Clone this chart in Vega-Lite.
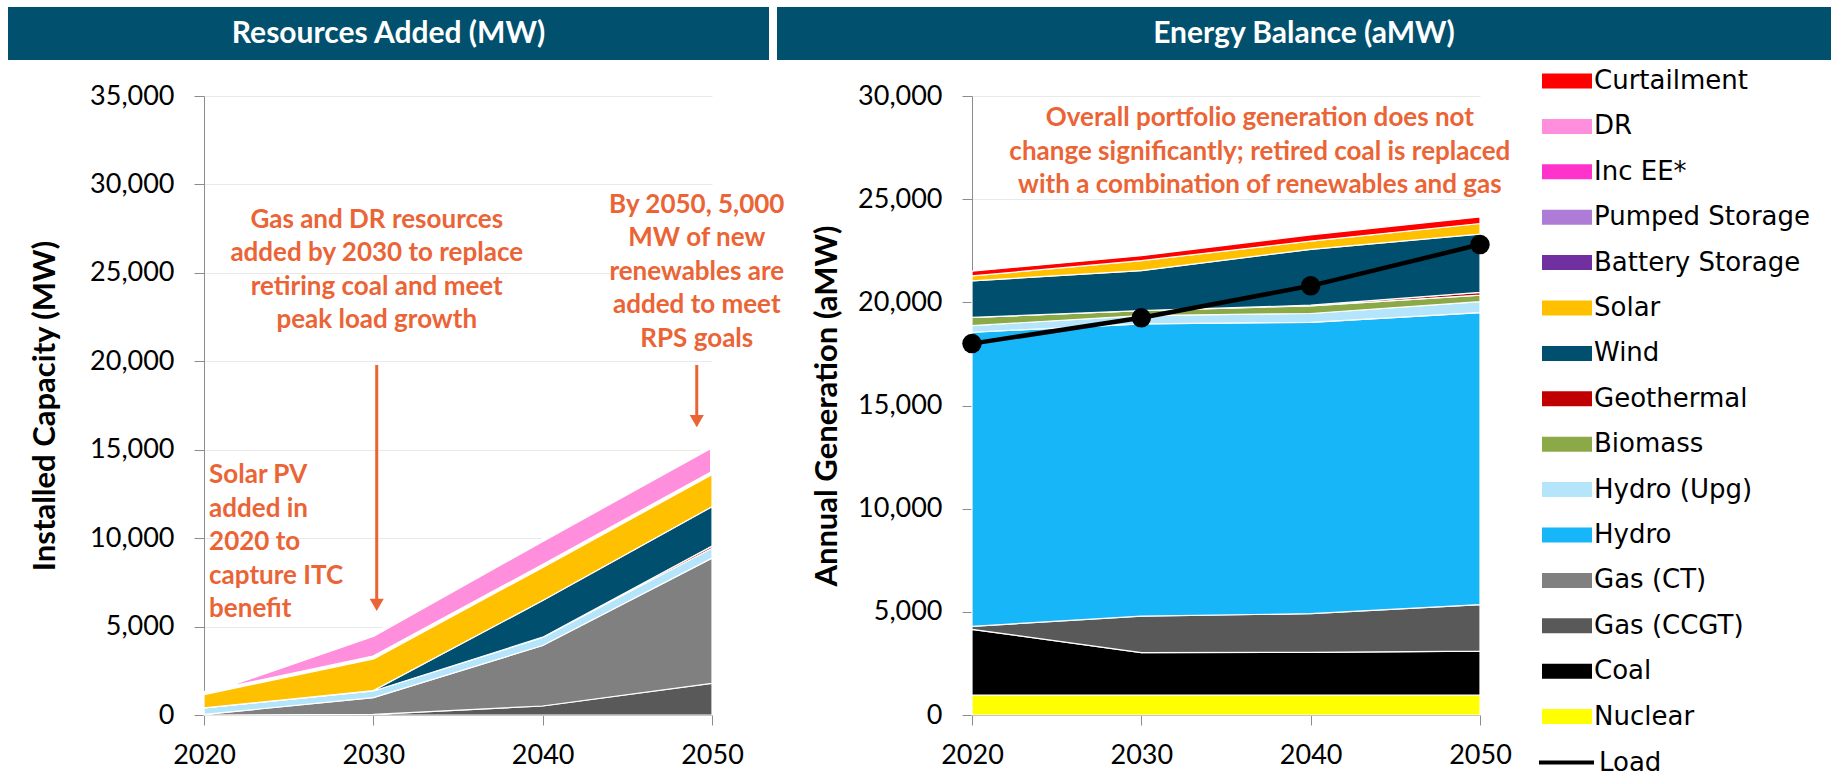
{
  "$schema": "https://vega.github.io/schema/vega-lite/v6.json",
  "background": "white",
  "padding": {"left": 8, "top": 7, "right": 0, "bottom": 0},
  "autosize": {"type": "pad"},
  "config": {
    "view": {"stroke": null},
    "font": "Lato",
    "axis": {
      "labelFont": "Lato", "titleFont": "Lato", "labelColor": "black", "titleColor": "black",
      "domainColor": "#8C8C8C", "tickColor": "#8C8C8C", "gridColor": "#E9E9E9",
      "tickSize": 10, "labelFontSize": 27, "titleFontSize": 31, "titleFontWeight": "bold",
      "labelOverlap": false
    }
  },
  "datasets": {
    "ranks": [
      {"series": "Nuclear", "rank": 1}, {"series": "Coal", "rank": 2}, {"series": "Gas (CCGT)", "rank": 3},
      {"series": "Gas (CT)", "rank": 4}, {"series": "Hydro", "rank": 5}, {"series": "Hydro (Upg)", "rank": 6},
      {"series": "Biomass", "rank": 7}, {"series": "Geothermal", "rank": 8}, {"series": "Wind", "rank": 9},
      {"series": "Solar", "rank": 10}, {"series": "Battery Storage", "rank": 11}, {"series": "Pumped Storage", "rank": 12},
      {"series": "Inc EE*", "rank": 13}, {"series": "DR", "rank": 14}, {"series": "Curtailment", "rank": 15}
    ],
    "cap": [
      {"series": "Gas (CCGT)", "year": 2020, "value": 0}, {"series": "Gas (CCGT)", "year": 2030, "value": 30},
      {"series": "Gas (CCGT)", "year": 2040, "value": 510}, {"series": "Gas (CCGT)", "year": 2050, "value": 1790},
      {"series": "Gas (CT)", "year": 2020, "value": 30}, {"series": "Gas (CT)", "year": 2030, "value": 950},
      {"series": "Gas (CT)", "year": 2040, "value": 3420}, {"series": "Gas (CT)", "year": 2050, "value": 7080},
      {"series": "Hydro (Upg)", "year": 2020, "value": 370}, {"series": "Hydro (Upg)", "year": 2030, "value": 380},
      {"series": "Hydro (Upg)", "year": 2040, "value": 450}, {"series": "Hydro (Upg)", "year": 2050, "value": 560},
      {"series": "Geothermal", "year": 2020, "value": 0}, {"series": "Geothermal", "year": 2030, "value": 0},
      {"series": "Geothermal", "year": 2040, "value": 20}, {"series": "Geothermal", "year": 2050, "value": 120},
      {"series": "Wind", "year": 2020, "value": 0}, {"series": "Wind", "year": 2030, "value": 20},
      {"series": "Wind", "year": 2040, "value": 2070}, {"series": "Wind", "year": 2050, "value": 2230},
      {"series": "Solar", "year": 2020, "value": 830}, {"series": "Solar", "year": 2030, "value": 1870},
      {"series": "Solar", "year": 2040, "value": 1960}, {"series": "Solar", "year": 2050, "value": 1900},
      {"series": "DR", "year": 2020, "value": 0}, {"series": "DR", "year": 2030, "value": 1280},
      {"series": "DR", "year": 2040, "value": 1470}, {"series": "DR", "year": 2050, "value": 1510}
    ],
    "gen": [
      {"series": "Nuclear", "year": 2020, "value": 970}, {"series": "Nuclear", "year": 2030, "value": 970},
      {"series": "Nuclear", "year": 2040, "value": 970}, {"series": "Nuclear", "year": 2050, "value": 970},
      {"series": "Coal", "year": 2020, "value": 3180}, {"series": "Coal", "year": 2030, "value": 2050},
      {"series": "Coal", "year": 2040, "value": 2070}, {"series": "Coal", "year": 2050, "value": 2130},
      {"series": "Gas (CCGT)", "year": 2020, "value": 150}, {"series": "Gas (CCGT)", "year": 2030, "value": 1770},
      {"series": "Gas (CCGT)", "year": 2040, "value": 1870}, {"series": "Gas (CCGT)", "year": 2050, "value": 2250},
      {"series": "Hydro", "year": 2020, "value": 14250}, {"series": "Hydro", "year": 2030, "value": 14170},
      {"series": "Hydro", "year": 2040, "value": 14120}, {"series": "Hydro", "year": 2050, "value": 14150},
      {"series": "Hydro (Upg)", "year": 2020, "value": 320}, {"series": "Hydro (Upg)", "year": 2030, "value": 400},
      {"series": "Hydro (Upg)", "year": 2040, "value": 430}, {"series": "Hydro (Upg)", "year": 2050, "value": 530},
      {"series": "Biomass", "year": 2020, "value": 400}, {"series": "Biomass", "year": 2030, "value": 240},
      {"series": "Biomass", "year": 2040, "value": 370}, {"series": "Biomass", "year": 2050, "value": 320},
      {"series": "Geothermal", "year": 2020, "value": 0}, {"series": "Geothermal", "year": 2030, "value": 0},
      {"series": "Geothermal", "year": 2040, "value": 30}, {"series": "Geothermal", "year": 2050, "value": 130},
      {"series": "Wind", "year": 2020, "value": 1770}, {"series": "Wind", "year": 2030, "value": 1940},
      {"series": "Wind", "year": 2040, "value": 2710}, {"series": "Wind", "year": 2050, "value": 2830},
      {"series": "Solar", "year": 2020, "value": 240}, {"series": "Solar", "year": 2030, "value": 480},
      {"series": "Solar", "year": 2040, "value": 400}, {"series": "Solar", "year": 2050, "value": 510},
      {"series": "Curtailment", "year": 2020, "value": 230}, {"series": "Curtailment", "year": 2030, "value": 240},
      {"series": "Curtailment", "year": 2040, "value": 300}, {"series": "Curtailment", "year": 2050, "value": 320}
    ],
    "load": [
      {"series": "Load", "year": 2020, "value": 18000}, {"series": "Load", "year": 2030, "value": 19250},
      {"series": "Load", "year": 2040, "value": 20800}, {"series": "Load", "year": 2050, "value": 22800}
    ],
    "notesL": [
      {"year": 2030.2, "value": 28724, "label": "Gas and DR resources\nadded by 2030 to replace\nretiring coal and meet\npeak load growth"},
      {"year": 2049.1, "value": 29572, "label": "By 2050, 5,000\nMW of new\nrenewables are\nadded to meet\nRPS goals"}
    ],
    "notesL2": [
      {"year": 2020.3, "value": 14305, "label": "Solar PV\nadded in\n2020 to\ncapture ITC\nbenefit"}
    ],
    "arrows": [
      {"year": 2030.2, "value": 19790, "value2": 6500},
      {"year": 2049.1, "value": 19790, "value2": 16900}
    ],
    "heads": [
      {"year": 2030.2, "value": 6220},
      {"year": 2049.1, "value": 16620}
    ],
    "notesR": [
      {"year": 2037.0, "value": 29560, "label": "Overall portfolio generation does not\nchange significantly; retired coal is replaced\nwith a combination of renewables and gas"}
    ]
  },
  "spacing": 22,
  "vconcat": [
    {
      "spacing": 8,
      "hconcat": [
        {
          "width": 761, "height": 53,
          "view": {"fill": "#00506E", "stroke": null},
          "data": {"values": [{"t": "Resources Added (MW)"}]},
          "mark": {"type": "text", "color": "white", "fontSize": 30, "fontWeight": "bold", "font": "Lato"},
          "encoding": {"text": {"field": "t", "type": "nominal"}}
        },
        {
          "width": 1054, "height": 53,
          "view": {"fill": "#00506E", "stroke": null},
          "data": {"values": [{"t": "Energy Balance (aMW)"}]},
          "mark": {"type": "text", "color": "white", "fontSize": 30, "fontWeight": "bold", "font": "Lato"},
          "encoding": {"text": {"field": "t", "type": "nominal"}}
        }
      ]
    },
    {
      "spacing": 0,
      "bounds": "flush",
      "hconcat": [
        {"width": 196, "height": 619, "data": {"values": []}, "mark": "point"},
        {
          "width": 508, "height": 619,
          "layer": [
            {
              "data": {"name": "cap"},
              "transform": [{"lookup": "series", "from": {"data": {"name": "ranks"}, "key": "series", "fields": ["rank"]}}],
              "mark": {"type": "area", "stroke": "white", "interpolate": "linear", "opacity": 1},
              "encoding": {
                "x": {"field": "year", "type": "quantitative",
                      "scale": {"domain": [2020, 2050], "nice": false, "zero": false},
                      "axis": {"values": [2020, 2030, 2040, 2050], "format": "d", "title": null, "grid": false, "labelFlush": false, "labelPadding": 17}},
                "y": {"field": "value", "type": "quantitative", "stack": "zero",
                      "scale": {"domain": [0, 35000], "nice": false},
                      "axis": {"values": [0, 5000, 10000, 15000, 20000, 25000, 30000, 35000], "format": ",.0f", "title": "Installed Capacity (MW)", "grid": true, "labelPadding": 20, "titleX": -159, "titleBaseline": "middle"}},
                "fill": {"field": "series", "type": "nominal",
                  "scale": {
                    "domain": ["Curtailment", "DR", "Inc EE*", "Pumped Storage", "Battery Storage", "Solar", "Wind", "Geothermal", "Biomass", "Hydro (Upg)", "Hydro", "Gas (CT)", "Gas (CCGT)", "Coal", "Nuclear"],
                    "range": ["#FF0000", "#FF8FDC", "#FF33CC", "#AE7BD6", "#7030A0", "#FFC000", "#004F6E", "#C00000", "#8BAA47", "#B5E5FB", "#17B6F8", "#808080", "#595959", "#000000", "#FFFF00"]
                  },
                  "legend": {
                    "title": null, "orient": "none", "legendX": 1541, "legendY": 56, "direction": "vertical",
                    "symbolType": "M-1.389,-0.417L1.389,-0.417L1.389,0.417L-1.389,0.417Z",
                    "symbolSize": 1296, "symbolStrokeWidth": 0, "symbolOpacity": 1,
                    "labelFont": "DejaVu Sans", "labelFontSize": 26, "labelColor": "black",
                    "labelOffset": 9, "labelLimit": 400, "rowPadding": 14.4, "padding": 0
                  }
                },
                "order": {"field": "rank", "type": "quantitative", "sort": "ascending"},
                "strokeWidth": {"condition": {"test": "datum.series === 'DR'", "value": 4}, "value": 1.2}
              }
            },
            {
              "data": {"name": "arrows"},
              "mark": {"type": "rule", "color": "#EB6436", "strokeWidth": 3},
              "encoding": {
                "x": {"field": "year", "type": "quantitative"},
                "y": {"field": "value", "type": "quantitative"},
                "y2": {"field": "value2"}
              }
            },
            {
              "data": {"name": "heads"},
              "mark": {"type": "point", "shape": "triangle-down", "filled": true, "size": 200, "color": "#EB6436", "opacity": 1},
              "encoding": {
                "x": {"field": "year", "type": "quantitative"},
                "y": {"field": "value", "type": "quantitative"}
              }
            },
            {
              "data": {"name": "notesL"},
              "mark": {"type": "text", "align": "center", "baseline": "top", "lineBreak": "\n", "lineHeight": 33.5, "fontSize": 26, "fontWeight": "bold", "color": "#EB6436", "font": "Lato"},
              "encoding": {
                "x": {"field": "year", "type": "quantitative"},
                "y": {"field": "value", "type": "quantitative"},
                "text": {"field": "label", "type": "nominal"}
              }
            },
            {
              "data": {"name": "notesL2"},
              "mark": {"type": "text", "align": "left", "baseline": "top", "lineBreak": "\n", "lineHeight": 33.5, "fontSize": 26, "fontWeight": "bold", "color": "#EB6436", "font": "Lato"},
              "encoding": {
                "x": {"field": "year", "type": "quantitative"},
                "y": {"field": "value", "type": "quantitative"},
                "text": {"field": "label", "type": "nominal"}
              }
            }
          ]
        },
        {"width": 260, "height": 619, "data": {"values": []}, "mark": "point"},
        {
          "width": 508, "height": 619,
          "layer": [
            {
              "data": {"name": "gen"},
              "transform": [{"lookup": "series", "from": {"data": {"name": "ranks"}, "key": "series", "fields": ["rank"]}}],
              "mark": {"type": "area", "stroke": "white", "strokeWidth": 1.2, "interpolate": "linear", "opacity": 1},
              "encoding": {
                "x": {"field": "year", "type": "quantitative",
                      "scale": {"domain": [2020, 2050], "nice": false, "zero": false},
                      "axis": {"values": [2020, 2030, 2040, 2050], "format": "d", "title": null, "grid": false, "labelFlush": false, "labelPadding": 17}},
                "y": {"field": "value", "type": "quantitative", "stack": "zero",
                      "scale": {"domain": [0, 30000], "nice": false},
                      "axis": {"values": [0, 5000, 10000, 15000, 20000, 25000, 30000], "format": ",.0f", "title": "Annual Generation (aMW)", "grid": true, "labelPadding": 20, "titleX": -145, "titleBaseline": "middle"}},
                "fill": {"field": "series", "type": "nominal",
                  "scale": {
                    "domain": ["Curtailment", "DR", "Inc EE*", "Pumped Storage", "Battery Storage", "Solar", "Wind", "Geothermal", "Biomass", "Hydro (Upg)", "Hydro", "Gas (CT)", "Gas (CCGT)", "Coal", "Nuclear"],
                    "range": ["#FF0000", "#FF8FDC", "#FF33CC", "#AE7BD6", "#7030A0", "#FFC000", "#004F6E", "#C00000", "#8BAA47", "#B5E5FB", "#17B6F8", "#808080", "#595959", "#000000", "#FFFF00"]
                  },
                  "legend": {
                    "title": null, "orient": "none", "legendX": 1541, "legendY": 56, "direction": "vertical",
                    "symbolType": "M-1.389,-0.417L1.389,-0.417L1.389,0.417L-1.389,0.417Z",
                    "symbolSize": 1296, "symbolStrokeWidth": 0, "symbolOpacity": 1,
                    "labelFont": "DejaVu Sans", "labelFontSize": 26, "labelColor": "black",
                    "labelOffset": 9, "labelLimit": 400, "rowPadding": 14.4, "padding": 0
                  }
                },
                "order": {"field": "rank", "type": "quantitative", "sort": "ascending"}
              }
            },
            {
              "data": {"name": "load"},
              "mark": {"type": "line", "strokeWidth": 4.5},
              "encoding": {
                "x": {"field": "year", "type": "quantitative"},
                "y": {"field": "value", "type": "quantitative"},
                "stroke": {"field": "series", "type": "nominal",
                  "scale": {"domain": ["Load"], "range": ["black"]},
                  "legend": {
                    "title": null, "orient": "none", "legendX": 1529, "legendY": 726,
                    "symbolType": "stroke", "symbolSize": 3025, "symbolStrokeWidth": 4, "symbolStrokeColor": "black",
                    "labelFont": "DejaVu Sans", "labelFontSize": 26, "labelColor": "black",
                    "labelOffset": 3, "labelLimit": 400, "padding": 0
                  }
                }
              }
            },
            {
              "data": {"name": "load"},
              "mark": {"type": "circle", "color": "black", "size": 380, "opacity": 1},
              "encoding": {
                "x": {"field": "year", "type": "quantitative"},
                "y": {"field": "value", "type": "quantitative"}
              }
            },
            {
              "data": {"name": "notesR"},
              "mark": {"type": "text", "align": "center", "baseline": "top", "lineBreak": "\n", "lineHeight": 33.5, "fontSize": 26, "fontWeight": "bold", "color": "#EB6436", "font": "Lato"},
              "encoding": {
                "x": {"field": "year", "type": "quantitative"},
                "y": {"field": "value", "type": "quantitative"},
                "text": {"field": "label", "type": "nominal"}
              }
            }
          ]
        }
      ]
    }
  ]
}
